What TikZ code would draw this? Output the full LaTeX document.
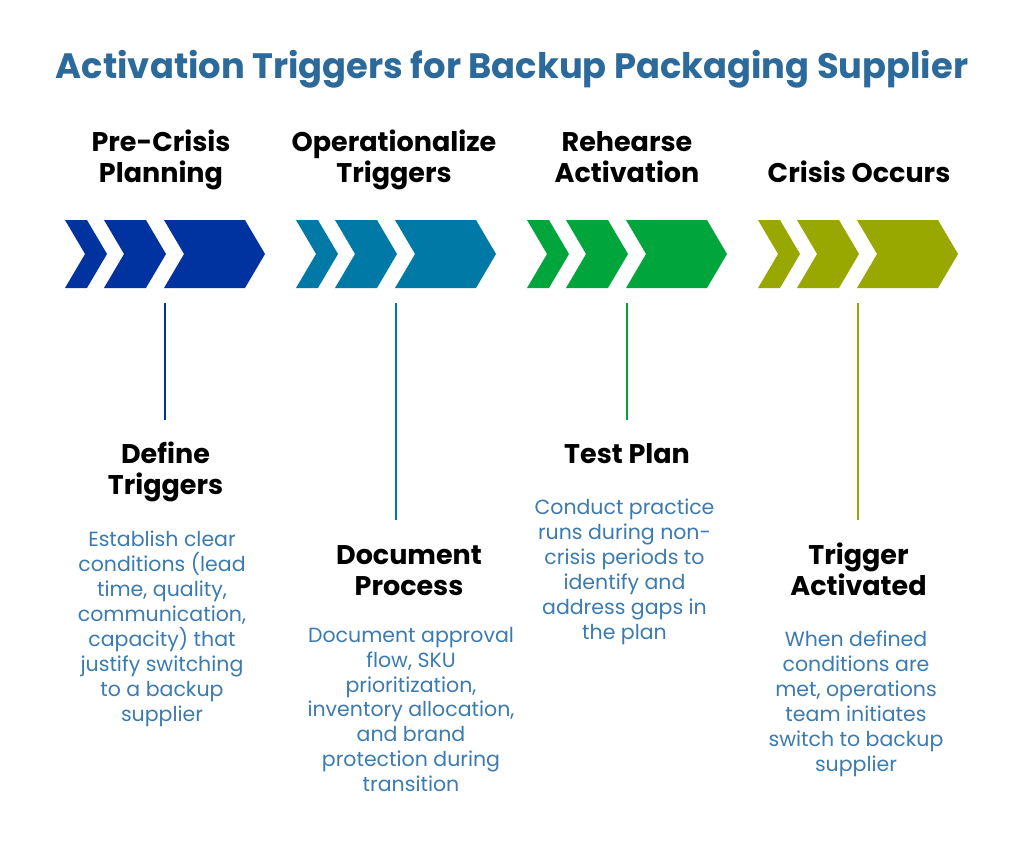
\documentclass[tikz,border=0pt]{standalone}
\usepackage{fontspec}
\setmainfont{Poppins}
\usetikzlibrary{positioning,shapes.symbols}

\definecolor{titleblue}{HTML}{2B6A9A}
\definecolor{bodyblue}{HTML}{3C7BB0}
\definecolor{navy}{HTML}{0033A0}
\definecolor{teal}{HTML}{0079A7}
\definecolor{leaf}{HTML}{00A63C}
\definecolor{olive}{HTML}{99A800}

\begin{document}
\begin{tikzpicture}[
		x=1pt, y=-1pt,
		every node/.style={inner sep=0pt, align=center},
		chev/.style={signal, signal to=east, signal from=west, signal pointer angle=119,
			minimum height=68pt, fill=#1},
		head/.style={font=\bfseries\fontsize{27}{31}\selectfont, text depth=0pt, anchor=south},
		body/.style={font=\fontsize{20.5}{25}\selectfont, text=bodyblue},
		stem/.style={line width=2pt}
	]
  \useasboundingbox[fill=white] (0,0) rectangle (1024,849);

  \node (title) [font=\bfseries\fontsize{35.3}{40}\selectfont, text=titleblue, anchor=base] at (512,78)
    {Activation Triggers for Backup Packaging Supplier};

  % stage headings
  \node (h1) [head] at (161,183) {Pre-Crisis\\Planning};
  \node (h2) [head] at (394,183) {Operationalize\\Triggers};
  \node (h3) [head] at (627,183) {Rehearse\\Activation};
  \node (h4) [head] at (859,183) {Crisis Occurs};

  % chevrons
  \node (a1) [chev=navy, minimum width=42pt] at (86,254) {};
  \node (a2) [chev=navy, minimum width=62pt] at (135,254) {};
  \node (a3) [chev=navy, minimum width=101pt] at (214.5,254) {};
  \node (b1) [chev=teal, minimum width=42pt] at (317,254) {};
  \node (b2) [chev=teal, minimum width=62pt] at (366,254) {};
  \node (b3) [chev=teal, minimum width=101pt] at (445.5,254) {};
  \node (c1) [chev=leaf, minimum width=42pt] at (548,254) {};
  \node (c2) [chev=leaf, minimum width=62pt] at (597,254) {};
  \node (c3) [chev=leaf, minimum width=101pt] at (676.5,254) {};
  \node (d1) [chev=olive, minimum width=42pt] at (779,254) {};
  \node (d2) [chev=olive, minimum width=62pt] at (828,254) {};
  \node (d3) [chev=olive, minimum width=101pt] at (907.5,254) {};

  % steps
  \node (s1) [head] at (165.5,495) {Define\\Triggers};
  \node (s2) [head] at (409,595.5) {Document\\Process};
  \node (s3) [head] at (627,464) {Test Plan};
  \node (s4) [head] at (858.5,595.5) {Trigger\\Activated};

  \node (t1) [body, below=36pt of s1, xshift=-3.5pt] {Establish clear\\conditions (lead\\time, quality,\\communication,\\capacity) that\\justify switching\\to a backup\\supplier};
  \node (t2) [body, below=32pt of s2, xshift=2pt, font=\fontsize{20.5}{24.7}\selectfont] {Document approval\\flow, SKU\\prioritization,\\inventory allocation,\\and brand\\protection during\\transition};
  \node (t3) [body, below=35pt of s3, xshift=-2.5pt] {Conduct practice\\runs during non-\\crisis periods to\\identify and\\address gaps in\\the plan};
  \node (t4) [body, below=35.5pt of s4, xshift=-2.5pt] {When defined\\conditions are\\met, operations\\team initiates\\switch to backup\\supplier};

  \coordinate (p1) at (165,303);
  \coordinate (q1) at (165,420);
  \coordinate (p2) at (396,303);
  \coordinate (q2) at (396,520);
  \coordinate (p3) at (627,303);
  \coordinate (q3) at (627,420);
  \coordinate (p4) at (858,303);
  \coordinate (q4) at (858,520);

  \draw[stem, navy] (p1) -- (q1);
  \draw[stem, teal] (p2) -- (q2);
  \draw[stem, leaf] (p3) -- (q3);
  \draw[stem, olive] (p4) -- (q4);
\end{tikzpicture}
\end{document}
